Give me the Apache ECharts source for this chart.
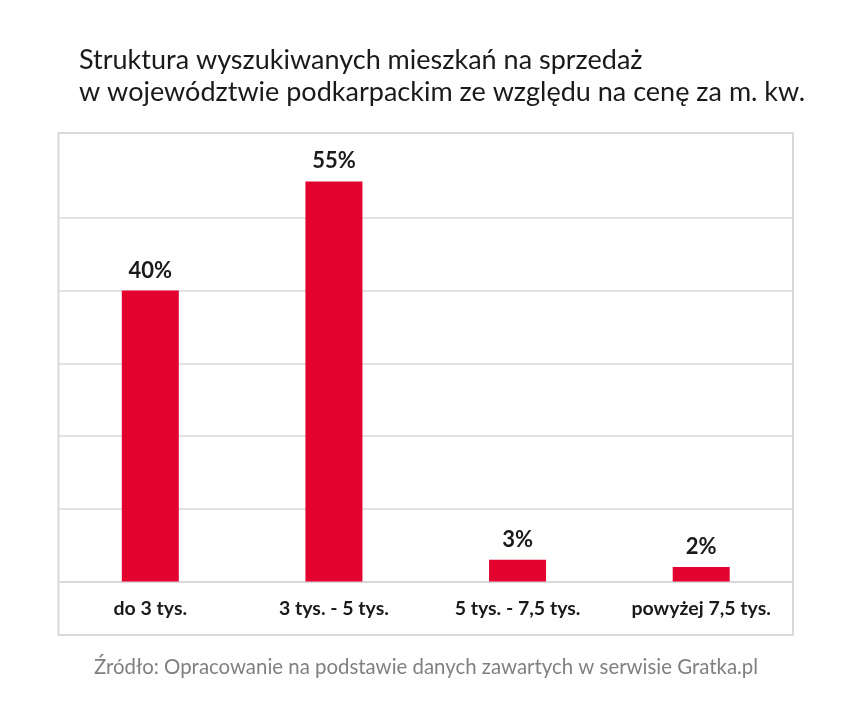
<!DOCTYPE html>
<html><head><meta charset="utf-8">
<script src="https://cdn.jsdelivr.net/npm/echarts@6/dist/echarts.min.js"></script>
<style>html,body{margin:0;padding:0;background:#fff}#c{width:852px;height:709px}</style>
</head><body><div id="c"></div>
<script>
const categories = ['do 3 tys.', '3 tys. - 5 tys.', '5 tys. - 7,5 tys.', 'powyżej 7,5 tys.'];
const values = [40, 55, 3, 2];
const titleText = 'Struktura wyszukiwanych mieszkań na sprzedaż\nw województwie podkarpackim ze względu na cenę za m. kw.';
const sourceText = 'Źródło: Opracowanie na podstawie danych zawartych w serwisie Gratka.pl';

const chart = echarts.init(document.getElementById('c'), null, {renderer: 'canvas'});
chart.setOption({
  backgroundColor: '#ffffff',
  animation: false,
  title: [{
    text: titleText,
    left: 74, top: 39,
    textStyle: {fontFamily: 'Lato', fontSize: 27, fontWeight: 'normal', color: '#1a1a1a', lineHeight: 32}
  }, {
    text: sourceText,
    left: 'center', top: 652,
    textStyle: {fontFamily: 'Lato', fontSize: 20.4, fontWeight: 'normal', color: '#808080'}
  }],
  graphic: [{
    type: 'rect', shape: {x: 58.5, y: 133, width: 734.5, height: 502},
    style: {fill: 'none', stroke: '#d9d9d9', lineWidth: 2}, z: 0
  }],
  grid: {left: 58.5, right: 59, top: 145, bottom: 127.5, containLabel: false},
  xAxis: {
    type: 'category', data: categories,
    axisLine: {show: true, lineStyle: {color: '#d9d9d9', width: 2}},
    axisTick: {show: false},
    axisLabel: {margin: 17, fontFamily: 'Lato', fontSize: 19.5, fontWeight: 'bold', color: '#1a1a1a'}
  },
  yAxis: {
    type: 'value', min: 0, max: 60, interval: 10,
    axisLine: {show: false}, axisTick: {show: false}, axisLabel: {show: false},
    splitLine: {show: true, showMaxLine: false, lineStyle: {color: '#d9d9d9', width: 1.5}}
  },
  series: [{
    type: 'bar', data: values, barWidth: 57,
    itemStyle: {color: '#e2032e'},
    label: {show: true, position: 'top', distance: 9, formatter: '{c}%',
      fontFamily: 'Lato', fontSize: 22, fontWeight: 'bold', color: '#1a1a1a'}
  }]
});
</script></body></html>
